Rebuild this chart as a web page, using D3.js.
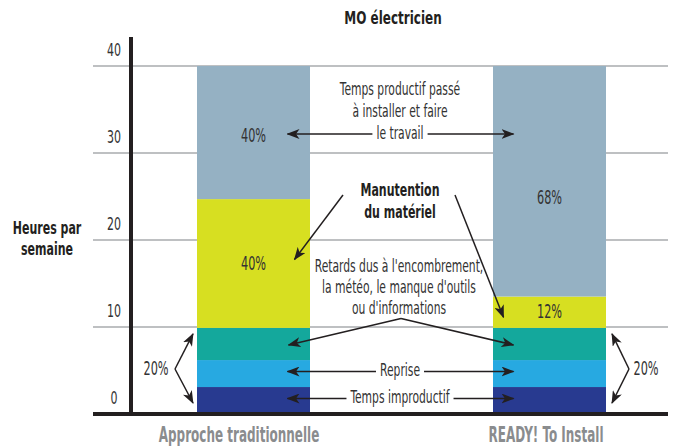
<!DOCTYPE html>
<html><head><meta charset="utf-8">
<script src="https://cdn.jsdelivr.net/npm/d3@7"></script>
<style>
body{margin:0;background:#fff}
text{font-family:"DejaVu Sans Condensed","Liberation Sans Narrow","Roboto Condensed",sans-serif}
</style></head><body>
<svg id="c" width="675" height="447"></svg>
<script>
// ---- data ----
const categories = ["Approche traditionnelle", "READY! To Install"];
const segments = ["Temps improductif", "Reprise", "Retards", "Manutention du matériel", "Temps productif"];
const traditionnelle = [3.1, 3.1, 3.7, 14.8, 15.3];
const readyToInstall = [3.1, 3.1, 3.7, 3.6, 26.5];
const yTicks = [0, 10, 20, 30, 40];
const pctTraditionnelle = ["", "", "", "40%", "40%"];
const pctReady = ["", "", "", "12%", "68%"];
const braceLabel = "20%";
const title = "MO électricien";
const yTitle = ["Heures par", "semaine"];
const colors = ["#283a90", "#27a9e1", "#14a89c", "#d7df21", "#95b1c3"];

const svg = d3.select("#c");
const y = d3.scaleLinear().domain([0, 40]).range([414, 66]);
const x = d3.scalePoint().domain(categories).range([253.5, 549.5]);
const barW = 113;
const ink = "#231f20";
const SX = 0.665, FS = 18;

const rows = categories.map((c, i) => {
  const vals = i === 0 ? traditionnelle : readyToInstall;
  const r = {cat: c};
  segments.forEach((s, j) => r[s] = vals[j]);
  return r;
});
const stacked = d3.stack().keys(segments)(rows);
const pcts = [pctTraditionnelle, pctReady];

function txt(g, px, py, s, o = {}) {
  const size = o.size || FS, sx = o.sx == null ? SX : o.sx;
  return g.append("text")
    .attr("transform", `translate(${px},${py}) scale(${sx},1)`)
    .attr("text-anchor", o.anchor || "middle")
    .attr("dominant-baseline", "central")
    .attr("font-size", size)
    .attr("font-weight", o.weight || "normal")
    .attr("fill", o.fill || "#333")
    .text(s);
}

// marker
const defs = svg.append("defs");
defs.append("marker").attr("id", "ah")
  .attr("viewBox", "0 0 13 10").attr("refX", 12).attr("refY", 5)
  .attr("markerWidth", 13).attr("markerHeight", 10)
  .attr("markerUnits", "userSpaceOnUse").attr("orient", "auto")
  .append("path").attr("d", "M0,0 L13,5 L0,10 L3.5,5 Z").attr("fill", ink);

// gridlines
svg.append("g").selectAll("line").data(yTicks.filter(t => t > 0)).join("line")
  .attr("x1", 93).attr("x2", 668).attr("y1", d => y(d)).attr("y2", d => y(d))
  .attr("stroke", "#a9abae").attr("stroke-width", 1.5);

// bars
const gb = svg.append("g");
stacked.forEach((layer, j) => {
  gb.selectAll(null).data(layer).join("rect")
    .attr("x", d => x(d.data.cat) - barW / 2)
    .attr("width", barW)
    .attr("y", d => y(d[1]))
    .attr("height", d => y(d[0]) - y(d[1]))
    .attr("fill", colors[j]);
});

// axes
svg.append("line").attr("x1", 93).attr("x2", 668).attr("y1", y(0)).attr("y2", y(0))
  .attr("stroke", ink).attr("stroke-width", 4);
svg.append("line").attr("x1", 131).attr("x2", 131).attr("y1", 37).attr("y2", y(0) + 2)
  .attr("stroke", ink).attr("stroke-width", 4);

const gt = svg.append("g");
yTicks.forEach(t => txt(gt, 114, y(t) - 16, String(t), {size: 18, sx: 0.68}));

// titles
txt(svg, 393, 18, title, {size: 18, weight: "bold", sx: 0.74, fill: ink});
txt(svg, 47, 228, yTitle[0], {size: 18, weight: "bold", sx: 0.68, fill: ink});
txt(svg, 47, 249, yTitle[1], {size: 18, weight: "bold", sx: 0.68, fill: ink});
const catCenters = [x(categories[0]) - 14.5, x(categories[1]) - 3.5];
categories.forEach((c, i) => txt(svg, catCenters[i], 435, c, {size: 21, weight: "bold", sx: 0.635, fill: "#8a8c8e"}));

// percent labels in bars
const gp = svg.append("g");
const pctOffset = [[0, 0, 0, 0, 3], [0, 0, 0, -1, 16]];
stacked.forEach((layer, j) => {
  layer.forEach((d, i) => {
    const s = pcts[i][j];
    if (!s) return;
    txt(gp, x(d.data.cat), (y(d[0]) + y(d[1])) / 2 + pctOffset[i][j], s, {size: 19, sx: 0.66});
  });
});

// annotations
const ga = svg.append("g").attr("stroke", ink).attr("stroke-width", 1.5).attr("fill", "none");
function arrow(x1, y1, x2, y2) {
  ga.append("line").attr("x1", x1).attr("y1", y1).attr("x2", x2).attr("y2", y2).attr("marker-end", "url(#ah)");
}
const tipL = x(categories[0]) + 34, tipR = x(categories[1]) - 36;
const cx = 400;
const mid = (i, j) => (y(stacked[j][i][0]) + y(stacked[j][i][1])) / 2;

function hLabel(label, yy) {
  const t = txt(svg, cx, yy, label);
  const w = t.node().getComputedTextLength() * SX;
  arrow(cx - w / 2 - 4, yy + 1, tipL, yy + 1);
  arrow(cx + w / 2 + 4, yy + 1, tipR, yy + 1);
}
// Temps productif
txt(svg, cx, 89, "Temps productif passé");
txt(svg, cx, 111, "à installer et faire");
hLabel("le travail", 133);
hLabel("Reprise", mid(0, 1) - 3);
hLabel("Temps improductif", mid(0, 0) - 3);

// Manutention
txt(svg, cx, 190, "Manutention", {size: 18, weight: "bold", sx: 0.68, fill: ink});
txt(svg, cx, 212, "du matériel", {size: 18, weight: "bold", sx: 0.68, fill: ink});
arrow(343, 195, tipL + 7, mid(0, 3) - 4);
arrow(455, 195, tipR - 10, mid(1, 3) + 5);

// Retards
txt(svg, 399, 266, "Retards dus à l'encombrement,");
txt(svg, 399, 287, "la météo, le manque d'outils");
txt(svg, 399, 308, "ou d'informations");
ga.append("line").attr("x1", 401).attr("y1", 318.5).attr("x2", tipL + 1).attr("y2", mid(0, 2) + 1).attr("marker-end", "url(#ah)");
ga.append("line").attr("x1", 401).attr("y1", 318.5).attr("x2", tipR).attr("y2", mid(1, 2) + 1).attr("marker-end", "url(#ah)");

// braces
const bTop = y(stacked[2][0][1]) + 6, bBot = y(0) - 11;
arrow(175, 369, 193, bTop);
arrow(175, 369, 193, bBot);
txt(svg, 156, 369, braceLabel, {size: 19, sx: 0.66});
arrow(629, 369, 612, bTop);
arrow(629, 369, 612, bBot);
txt(svg, 646, 369, braceLabel, {size: 19, sx: 0.66});
</script>
</body></html>
